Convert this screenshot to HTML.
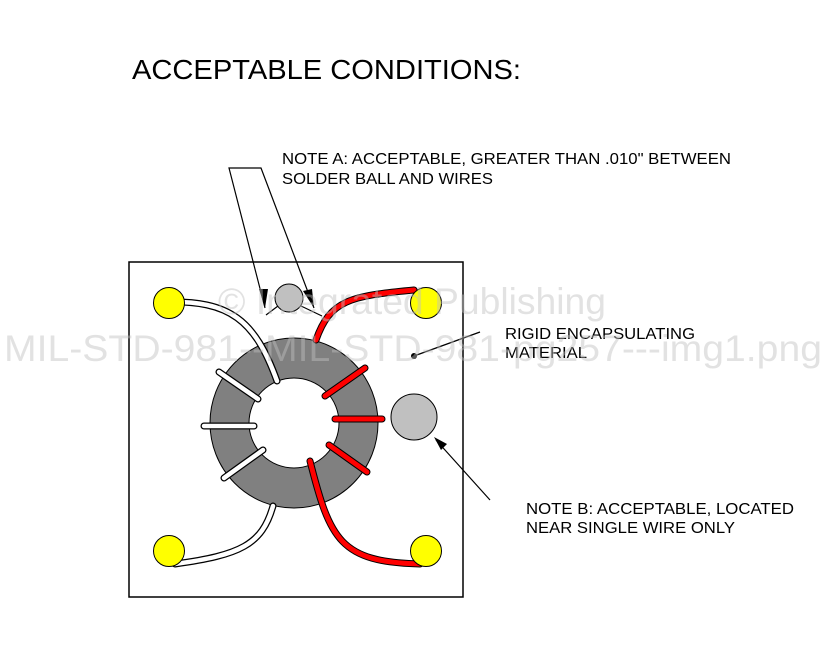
<!DOCTYPE html>
<html><head><style>
body{margin:0;background:#fff;}
svg{display:block;font-family:"Liberation Sans",sans-serif;}
</style></head><body>
<svg width="827" height="651" viewBox="0 0 827 651">
<rect x="0" y="0" width="827" height="651" fill="#fff"/>
<text x="132" y="79" font-size="28" textLength="389" lengthAdjust="spacingAndGlyphs">ACCEPTABLE CONDITIONS:</text>
<text x="282" y="164" font-size="16" textLength="449" lengthAdjust="spacingAndGlyphs">NOTE A: ACCEPTABLE, GREATER THAN .010" BETWEEN</text>
<text x="282" y="184" font-size="16" textLength="211" lengthAdjust="spacingAndGlyphs">SOLDER BALL AND WIRES</text>
<text x="505" y="339" font-size="16" textLength="190" lengthAdjust="spacingAndGlyphs">RIGID ENCAPSULATING</text>
<text x="505" y="358" font-size="16" textLength="82" lengthAdjust="spacingAndGlyphs">MATERIAL</text>
<text x="526" y="514" font-size="16" textLength="268" lengthAdjust="spacingAndGlyphs">NOTE B: ACCEPTABLE, LOCATED</text>
<text x="526" y="533" font-size="16" textLength="209" lengthAdjust="spacingAndGlyphs">NEAR SINGLE WIRE ONLY</text>
<rect x="129" y="262" width="334" height="335" fill="none" stroke="#000" stroke-width="1.5"/>
<path d="M210,423 a84,85 0 1,0 168,0 a84,85 0 1,0 -168,0 Z M249,423 a45,45 0 1,1 90,0 a45,45 0 1,1 -90,0 Z" fill="#808080" fill-rule="evenodd" stroke="#000" stroke-width="1"/>
<g stroke-linecap="round" fill="none">
<path d="M165,302 C230,300 255,320 277,381" stroke="#000" stroke-width="7"/>
<path d="M165,302 C230,300 255,320 277,381" stroke="#fff" stroke-width="4.5"/>
<path d="M316,340 C330,300 350,296 414,290" stroke="#000" stroke-width="7"/>
<path d="M316,340 C330,300 350,296 414,290" stroke="#f00" stroke-width="5"/>
<path d="M273,506 C262,545 240,555 175,564" stroke="#000" stroke-width="7"/>
<path d="M273,506 C262,545 240,555 175,564" stroke="#fff" stroke-width="4.5"/>
<path d="M310,461 C330,540 340,562 420,564" stroke="#000" stroke-width="7"/>
<path d="M310,461 C330,540 340,562 420,564" stroke="#f00" stroke-width="5"/>
<g stroke="#000" stroke-width="7">
<line x1="219" y1="372" x2="258" y2="399"/><line x1="204" y1="426" x2="254" y2="426"/><line x1="224" y1="478" x2="263" y2="450"/>
<line x1="325" y1="396" x2="365" y2="368"/><line x1="335" y1="419" x2="382" y2="419"/><line x1="329" y1="445" x2="367" y2="472"/>
</g>
<g stroke="#fff" stroke-width="4.5">
<line x1="219" y1="372" x2="258" y2="399"/><line x1="204" y1="426" x2="254" y2="426"/><line x1="224" y1="478" x2="263" y2="450"/>
</g>
<g stroke="#f00" stroke-width="5">
<line x1="325" y1="396" x2="365" y2="368"/><line x1="335" y1="419" x2="382" y2="419"/><line x1="329" y1="445" x2="367" y2="472"/>
</g>
</g>
<g fill="#ff0" stroke="#000" stroke-width="1">
<circle cx="169" cy="303" r="15.5"/><circle cx="426" cy="303" r="15.5"/>
<circle cx="169" cy="551" r="15.5"/><circle cx="426" cy="551" r="15.5"/>
</g>
<circle cx="289" cy="298" r="14" fill="#c0c0c0" stroke="#000"/>
<circle cx="414" cy="417" r="23" fill="#c0c0c0" stroke="#000"/>
<g stroke="#000" stroke-width="1.2" fill="none">
<polyline points="265,308 229,168 261,168 314,308"/>
<line x1="266" y1="315" x2="278" y2="306"/>
<line x1="301" y1="306" x2="322" y2="316"/>
<line x1="414" y1="356" x2="480" y2="332"/>
<line x1="490" y1="500" x2="436" y2="440"/>
</g>
<g fill="#000">
<polygon points="265,308 259,289 268,289"/>
<polygon points="314,308 303,291 312,289"/>
<polygon points="434,437 447,444 441,450"/>
<circle cx="414" cy="356" r="3"/>
</g>
<g fill="#c0c0c0" opacity="0.45" font-size="37">
<text x="218" y="314" textLength="388" lengthAdjust="spacingAndGlyphs">© Integrated Publishing</text>
<text x="4" y="361" textLength="818" lengthAdjust="spacingAndGlyphs">MIL-STD-981--MIL-STD-981-pg257---img1.png</text>
</g>
</svg>
</body></html>
